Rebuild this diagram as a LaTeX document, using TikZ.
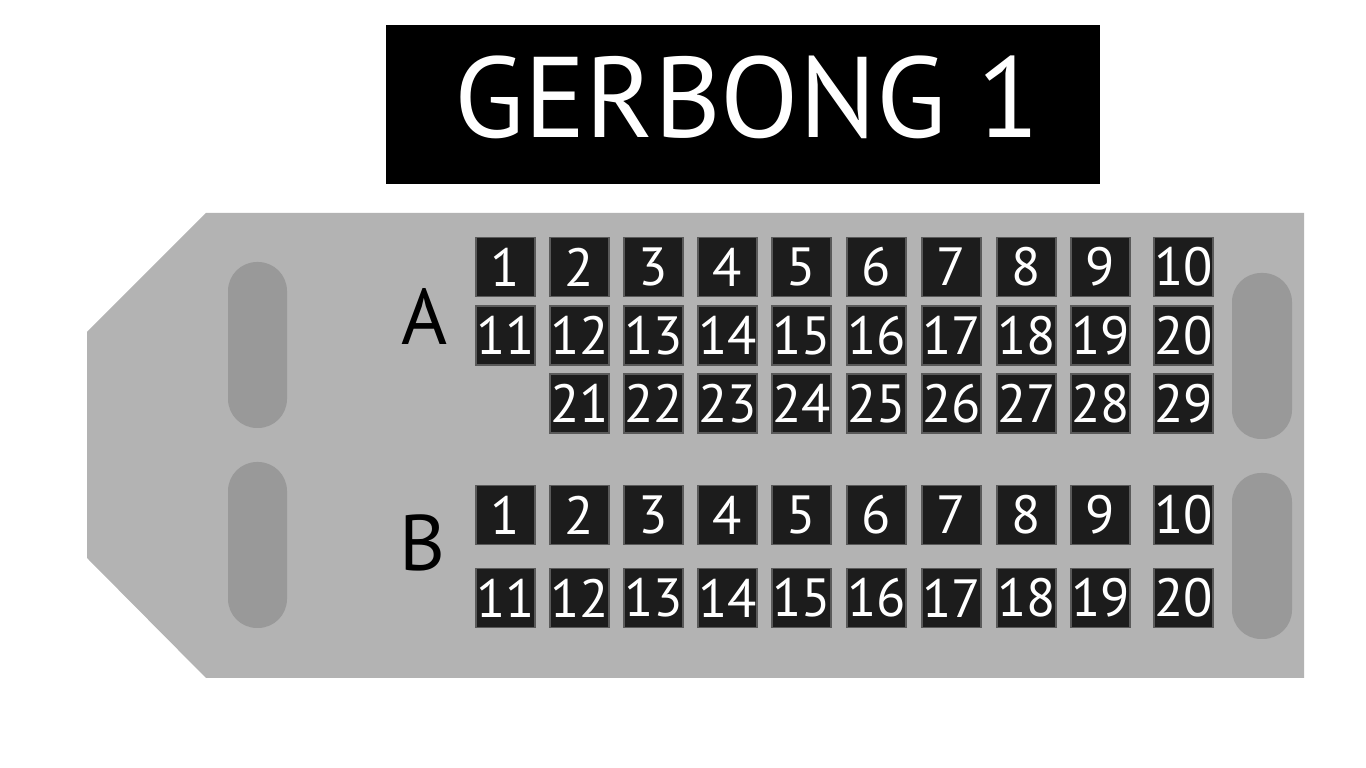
\documentclass[tikz,border=0pt]{standalone}
\usepackage{fontspec}
\setmainfont{PT Sans}
\definecolor{bodygray}{HTML}{B3B3B3}
\definecolor{pillgray}{HTML}{999999}
\definecolor{seatgray}{HTML}{1C1C1C}
\definecolor{seatedge}{HTML}{5A5A5A}
\tikzset{
  seat/.style={fill=seatgray, draw=seatedge, line width=0.4pt, minimum size=0.59cm,
    inner sep=0pt, text=white, font=\fontsize{15.3}{15.3}\selectfont},
  pill/.style={fill=pillgray, rounded corners=0.29cm},
  rowlabel/.style={font=\fontsize{22.4}{22.4}\selectfont, anchor=base},
  titlelabel/.style={text=white, font=\fontsize{32.6}{32.6}\selectfont, anchor=base},
}

\begin{document}
\begin{tikzpicture}[x=0.01cm, y=-0.01cm]
    \useasboundingbox (0,0) rectangle (1366,768);
    \fill[black] (386,25) rectangle (1100,184);
    \node[titlelabel] (title) at (747,138) {GERBONG 1};

    \fill[bodygray] (206,213) -- (1304,213) -- (1304,678) -- (206,678)
        -- (87,558) -- (87,332) -- cycle;
    \fill[pill] (228,262) rectangle (287,428);
    \fill[pill] (228,462) rectangle (287,628);
    \fill[pill] (1232,273) rectangle (1292,439);
    \fill[pill] (1232,473) rectangle (1292,639);

    \node[rowlabel] (rowA) at (425,345) {A};
    \node[rowlabel] (rowB) at (422,571) {B};

    \foreach \x [count=\i] in {505.5,579.5,653.5,727.5,801.5,876.5,951.5,1026.5,1100.5,1183.5} {
        \pgfmathtruncatemacro\j{\i+10}
        \node[seat] (a\i) at (\x,267) {\i};
        \node[seat] (a\j) at (\x,335.5) {\j};
        \node[seat] (b\i) at (\x,515) {\i};
        \node[seat] (b\j) at (\x,598) {\j};
    }
    \foreach \x [count=\i from 21] in {579.5,653.5,727.5,801.5,876.5,951.5,1026.5,1100.5,1183.5}
        \node[seat] (a\i) at (\x,403.5) {\i};
\end{tikzpicture}
\end{document}
